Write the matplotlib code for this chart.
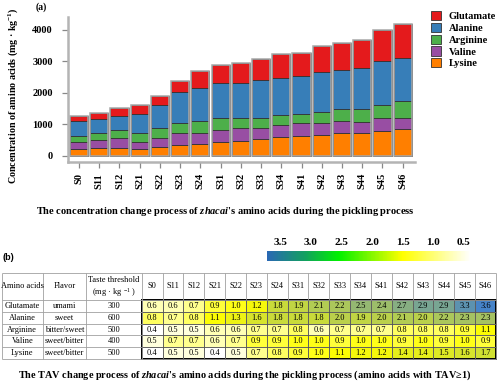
import numpy as np
import matplotlib
matplotlib.use("Agg")
import matplotlib.pyplot as plt
from matplotlib.colors import LinearSegmentedColormap, Normalize
from matplotlib.colorbar import ColorbarBase
from matplotlib.patches import Rectangle

plt.rcParams['font.family'] = ['Liberation Serif', 'DejaVu Serif']
plt.rcParams['mathtext.fontset'] = 'custom'
plt.rcParams['mathtext.rm'] = 'Liberation Serif'
plt.rcParams['mathtext.it'] = 'Liberation Serif:italic'
plt.rcParams['mathtext.bf'] = 'Liberation Serif:bold'
plt.rcParams['mathtext.bfit'] = 'Liberation Serif:italic:bold'

samples = ["S0", "S11", "S12", "S21", "S22", "S23", "S24", "S31", "S32",
           "S33", "S34", "S41", "S42", "S43", "S44", "S45", "S46"]

# concentrations (mg/kg), stacked bottom -> top
lysine    = [212, 243, 265, 212, 275, 349, 381, 434, 487, 540, 593, 624, 677, 720, 741, 794, 847]
valine    = [222, 265, 296, 243, 286, 371, 339, 381, 402, 338, 381, 413, 360, 381, 338, 402, 359]
arginine  = [212, 233, 254, 265, 317, 317, 381, 402, 317, 339, 338, 307, 360, 380, 402, 412, 540]
alanine   = [476, 434, 465, 624, 730, 974, 1058, 1090, 1101, 1175, 1143, 1196, 1259, 1228, 1302, 1397, 1344]
glutamate = [158, 179, 244, 275, 307, 359, 539, 561, 635, 666, 762, 730, 815, 868, 900, 984, 1100]

# table (b)
acids      = ["Glutamate", "Alanine", "Arginine", "Valine", "Lysine"]
flavors    = ["umami", "sweet", "bitter/sweet", "sweet/bitter", "sweet/bitter"]
thresholds = [300, 600, 500, 400, 500]
tav_glu = [0.6, 0.6, 0.7, 0.9, 1.0, 1.2, 1.8, 1.9, 2.1, 2.2, 2.5, 2.4, 2.7, 2.9, 2.9, 3.3, 3.6]
tav_ala = [0.8, 0.7, 0.8, 1.1, 1.3, 1.6, 1.8, 1.8, 1.8, 2.0, 1.9, 2.0, 2.1, 2.0, 2.2, 2.3, 2.3]
tav_arg = [0.4, 0.5, 0.5, 0.6, 0.6, 0.7, 0.7, 0.8, 0.6, 0.7, 0.7, 0.7, 0.8, 0.8, 0.8, 0.9, 1.1]
tav_val = [0.5, 0.7, 0.7, 0.6, 0.7, 0.9, 0.9, 1.0, 1.0, 0.9, 1.0, 1.0, 0.9, 1.0, 0.9, 1.0, 0.9]
tav_lys = [0.4, 0.5, 0.5, 0.4, 0.5, 0.7, 0.8, 0.9, 1.0, 1.1, 1.2, 1.2, 1.4, 1.4, 1.5, 1.6, 1.7]
cbar_ticks = [3.5, 3.0, 2.5, 2.0, 1.5, 1.0, 0.5]

W, H = 500, 383
fig = plt.figure(figsize=(W / 100, H / 100), dpi=100)


def fx(px):
    return px / W


def fy(py):
    return 1 - py / H


# ---------- (a) stacked bars ----------
ax = fig.add_axes([fx(68), fy(162), fx(415 - 68), (162 - 17) / H])
x = np.arange(len(samples))
layers = [("Lysine", lysine, "#ff7f00"), ("Valine", valine, "#984ea3"),
          ("Arginine", arginine, "#4daf4a"), ("Alanine", alanine, "#377eb8"),
          ("Glutamate", glutamate, "#e41a1c")]
bottom = np.zeros(len(samples))
handles = {}
for name, vals, col in layers:
    b = ax.bar(x, vals, width=0.9, bottom=bottom, color=col,
               edgecolor="#333333", linewidth=0.6, label=name)
    handles[name] = b
    bottom += np.array(vals)
ax.bar(x, bottom, width=0.9, fill=False, edgecolor="#a8a8a8", linewidth=1.1)

ax.set_xlim(-0.545, 16.61)
ax.set_ylim(-190, 4400)
ax.set_yticks([0, 1000, 2000, 3000, 4000])
ax.set_xticks(x)
ax.set_xticklabels(samples, rotation=90, fontweight="bold", fontsize=7.5)
for t in ax.get_yticklabels():
    t.set_fontweight("bold")
    t.set_fontsize(7.5)
for s in ["top", "right"]:
    ax.spines[s].set_visible(False)
for s in ["left", "bottom"]:
    ax.spines[s].set_color("#b4b4b4")
    ax.spines[s].set_linewidth(1.8)
ax.tick_params(axis="y", length=4, width=0.9, color="#888888", pad=7)
ax.tick_params(axis="x", length=4, width=0.9, color="#888888", pad=4)
ax.patch.set_visible(False)

order = ["Glutamate", "Alanine", "Arginine", "Valine", "Lysine"]
ax.legend([handles[n] for n in order], order, loc="upper left",
          bbox_to_anchor=(fx(431), fy(11)), bbox_transform=fig.transFigure,
          frameon=False, prop={"weight": "bold", "size": 7.5},
          handlelength=1.0, handleheight=1.0, labelspacing=0.15,
          handletextpad=0.7, borderpad=0, borderaxespad=0)

fig.text(fx(41), fy(7), "(a)", fontweight="bold", fontsize=7, ha="center", va="center")
fig.text(fx(13), fy(96), r"Concentration of amino acids (mg · kg$^{\mathbf{-1}}$)",
         rotation=90, fontweight="bold", fontsize=7.2, ha="center", va="center")
fig.text(fx(225), fy(211),
         r"The concentration change process of $\mathbfit{zhacai}$'s amino acids during the pickling process",
         fontweight="bold", fontsize=7.5, ha="center", va="center")

# ---------- (b) colour bar ----------
vmin_cb, vmax_cb = 0.38, 3.72
stops = [(0.38, "#ffffff"), (1.5, "#ffff00"), (2.55, "#00f000"),
         (3.1, "#12a060"), (3.72, "#2a68b4")]
cb_cmap = LinearSegmentedColormap.from_list(
    "cb", [((v - vmin_cb) / (vmax_cb - vmin_cb), c) for v, c in stops])
cax = fig.add_axes([fx(267), fy(261), fx(204), 10 / H])
cb = ColorbarBase(cax, cmap=cb_cmap, norm=Normalize(vmin_cb, vmax_cb),
                  orientation="horizontal")
cb.outline.set_visible(False)
cax.invert_xaxis()
cax.xaxis.set_ticks_position("top")
cb.set_ticks(cbar_ticks)
cb.set_ticklabels([f"{t:.1f}" for t in cbar_ticks])
cax.tick_params(length=0, pad=3)
for t in cax.get_xticklabels():
    t.set_fontweight("bold")
    t.set_fontsize(8)

# ---------- (b) table ----------
axt = fig.add_axes([0, 0, 1, 1], zorder=-1)
axt.set_xlim(0, W)
axt.set_ylim(H, 0)
axt.axis("off")

xe = np.concatenate([[1.7, 43, 86], 141.7 + 20.84 * np.arange(len(samples) + 1)])
ye = np.array([273, 300, 311.8, 323.6, 335.4, 347.2, 359])

tav = np.array([tav_glu, tav_ala, tav_arg, tav_val, tav_lys])
cell_cmap = LinearSegmentedColormap.from_list(
    "cell", [(0, "#ffffff"), ((1.05 - 0.4) / 3.2, "#ffff00"), (1, "#4683c8")])
axt.pcolormesh(xe[3:], ye[1:], tav, cmap=cell_cmap, norm=Normalize(0.4, 3.6))

axt.vlines(xe, ye[0], ye[-1], color="#a0a0a0", linewidth=0.6)
axt.hlines(ye, xe[0], xe[-1], color="#a0a0a0", linewidth=0.6)
axt.vlines(xe[4:-1], ye[1], ye[-1], color="#555555", linewidth=0.6)
axt.hlines(ye[2:-1], xe[3], xe[-1], color="#555555", linewidth=0.6)
axt.add_patch(Rectangle((xe[3], ye[1]), xe[-1] - xe[3], ye[-1] - ye[1],
                        fill=False, edgecolor="black", linewidth=1.4))

fs = 6
yh = (ye[0] + ye[1]) / 2
cx = (xe[:-1] + xe[1:]) / 2
axt.text(cx[0], yh, "Amino acids", fontsize=fs, ha="center", va="center")
axt.text(cx[1], yh, "Flavor", fontsize=fs, ha="center", va="center")
axt.text(cx[2], yh - 6, "Taste threshold", fontsize=fs, ha="center", va="center")
axt.text(cx[2], yh + 6, r"(mg · kg $^{-1}$ )", fontsize=fs, ha="center", va="center")
for j, s in enumerate(samples):
    axt.text(cx[3 + j], yh, s, fontsize=fs, ha="center", va="center")
for i in range(len(acids)):
    yc = (ye[i + 1] + ye[i + 2]) / 2
    axt.text(cx[0], yc, acids[i], fontsize=fs, ha="center", va="center")
    axt.text(cx[1], yc, flavors[i], fontsize=fs, ha="center", va="center")
    axt.text(cx[2], yc, str(thresholds[i]), fontsize=fs, ha="center", va="center")
    for j in range(len(samples)):
        axt.text(cx[3 + j], yc, f"{tav[i, j]:.1f}", fontsize=fs, ha="center", va="center")

fig.text(fx(8), fy(258), "(b)", fontweight="bold", fontsize=6.5, ha="center",
         va="center", family=["Liberation Sans", "DejaVu Sans"])
fig.text(fx(245), fy(375),
         r"The TAV change process of $\mathbfit{zhacai}$'s amino acids during the pickling process (amino acids with TAV≥1)",
         fontweight="bold", fontsize=7.4, ha="center", va="center")

fig.savefig("out.png", dpi=100)
